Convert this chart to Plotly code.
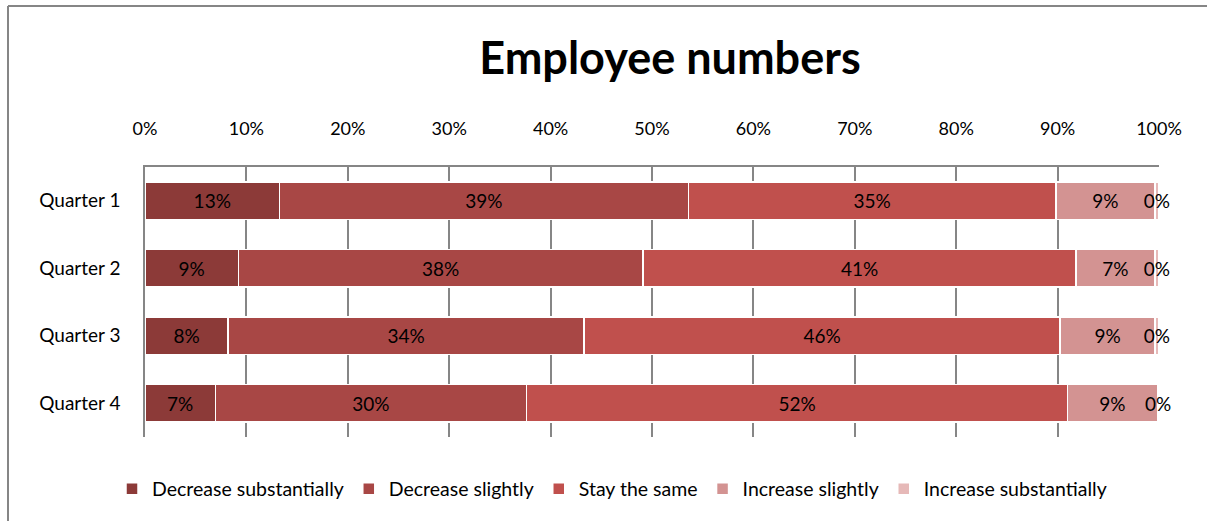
import plotly.graph_objects as go

categories = ["Quarter 1", "Quarter 2", "Quarter 3", "Quarter 4"]
series_names = ["Decrease substantially", "Decrease slightly", "Stay the same",
                "Increase slightly", "Increase substantially"]
decrease_substantially = [12.8, 8.8, 8.0, 6.8]
decrease_slightly = [38.9, 38.1, 34.2, 30.1]
stay_the_same = [35.0, 40.8, 45.8, 52.3]
increase_slightly = [9.4, 7.4, 9.1, 8.7]
increase_substantially = [0.4, 0.4, 0.4, 0.15]
tick_values = [0, 10, 20, 30, 40, 50, 60, 70, 80, 90, 100]
tick_labels = ["0%", "10%", "20%", "30%", "40%", "50%", "60%", "70%", "80%", "90%", "100%"]

series_values = [decrease_substantially, decrease_slightly, stay_the_same,
                 increase_slightly, increase_substantially]
colors = ["#8C3A38", "#A84745", "#C0504D", "#D39392", "#E6B9B8"]

FONT = "Lato"
FS = 19
fig = go.Figure()
for name, vals, col in zip(series_names, series_values, colors):
    fig.add_trace(go.Bar(
        y=categories, x=vals, name=name, orientation="h",
        marker=dict(color=col, line=dict(color="white", width=1.5)),
        text=[f"{round(v)}%" for v in vals],
        textposition="inside", insidetextanchor="middle", textangle=0,
        constraintext="none",
        textfont=dict(family=FONT, size=FS, color="black"),
        cliponaxis=False,
    ))

W, H = 1207, 521
L, R, T, B = 145, 48, 167, 84
pw, ph = W - L - R, H - T - B
fig.update_layout(
    width=W, height=H,
    barmode="stack", barnorm="percent", bargap=0.45,
    margin=dict(l=L, r=R, t=T, b=B),
    paper_bgcolor="white", plot_bgcolor="white",
    font=dict(family=FONT, size=FS, color="black"),
    uniformtext=dict(minsize=FS, mode="show"),
    title=dict(text="<b>Employee numbers</b>", x=670 / W, xanchor="center",
               y=1 - 58 / H, yanchor="middle",
               font=dict(family=FONT, size=45, color="black")),
    legend=dict(orientation="h", x=(612 - L) / pw, xanchor="center",
                y=-(489 - (H - B)) / ph, yanchor="middle",
                font=dict(family=FONT, size=19.5), traceorder="normal"),
    xaxis=dict(side="top", range=[0, 100], tickvals=tick_values, ticktext=tick_labels,
               showgrid=True, gridcolor="#868686", gridwidth=1.5,
               showline=True, linecolor="#868686", linewidth=1.5,
               ticks="", ticklabelstandoff=23, zeroline=False,
               tickfont=dict(family=FONT, size=18)),
    yaxis=dict(autorange="reversed", showline=True, linecolor="#868686", linewidth=1.5,
               ticks="", ticklabelstandoff=19, tickfont=dict(family=FONT, size=19)),
)

x_left = (8 - L) / pw
y_top = (H - B - 6) / ph
fig.add_shape(type="line", xref="paper", yref="paper", x0=x_left, x1=(W + 20 - L) / pw,
              y0=y_top, y1=y_top, line=dict(color="#868686", width=2))
fig.add_shape(type="line", xref="paper", yref="paper", x0=x_left, x1=x_left,
              y0=y_top, y1=-(B + 20) / ph, line=dict(color="#868686", width=2))

fig.write_html("out.html", config={"displayModeBar": False},
               post_script="document.body.style.margin='0';document.body.style.overflow='hidden';")
